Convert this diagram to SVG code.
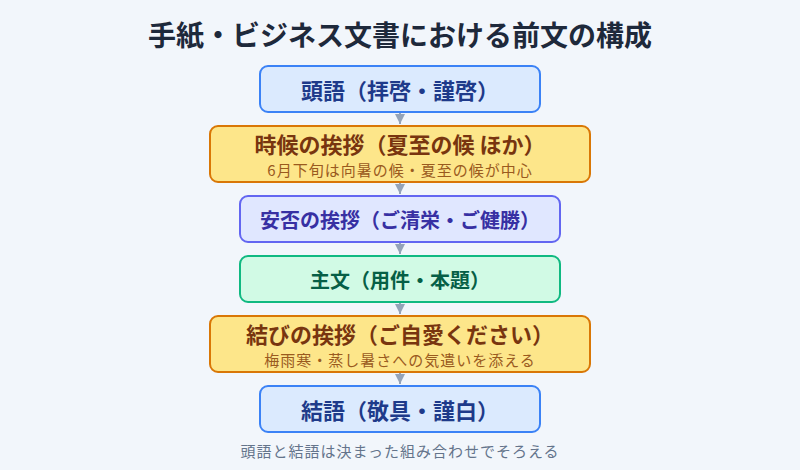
<svg xmlns="http://www.w3.org/2000/svg" width="800" height="470" viewBox="0 0 800 470">
<style>
text{font-family:"Noto Sans CJK JP","Noto Sans CJK SC",sans-serif;text-anchor:middle;dominant-baseline:central}
.t{font-size:22px;font-weight:700}
.m{font-size:20px;font-weight:700}
.s{font-size:15px;letter-spacing:1px}
.f{font-size:15px;letter-spacing:1px;fill:#64748b}
.box{stroke-width:2}
.blue rect{fill:#dbeafe;stroke:#3b82f6}
.blue text{fill:#1e3a8a}
.amber rect{fill:#fde68a;stroke:#d97706}
.amber .t{fill:#78350f}
.amber .s{fill:#9a5a1e}
.indigo rect{fill:#e0e7ff;stroke:#6366f1}
.indigo text{fill:#3730a3}
.green rect{fill:#d1fae5;stroke:#10b981}
.green text{fill:#065f46}
.conn line{stroke:#94a3b8;stroke-width:2}
</style>
<defs>
<marker id="ah" viewBox="0 0 10 10" refX="10" refY="5" markerWidth="10" markerHeight="10" markerUnits="userSpaceOnUse" orient="auto">
<path d="M0,0 L10,5 L0,10 Z" fill="#94a3b8"/>
</marker>
</defs>
<rect width="800" height="470" fill="#f2f6fb"/>
<text x="400" y="34" style="font-size:28px;font-weight:700;fill:#1e293b">手紙・ビジネス文書における前文の構成</text>
<g class="conn">
<line x1="400" y1="112" x2="400" y2="124" marker-end="url(#ah)"/>
<line x1="400" y1="182" x2="400" y2="194" marker-end="url(#ah)"/>
<line x1="400" y1="242" x2="400" y2="254" marker-end="url(#ah)"/>
<line x1="400" y1="302" x2="400" y2="314" marker-end="url(#ah)"/>
<line x1="400" y1="372" x2="400" y2="384" marker-end="url(#ah)"/>
</g>
<g id="n1" class="blue">
<rect class="box" x="260" y="66" width="280" height="46" rx="8"/>
<text class="t" x="400" y="89">頭語（拝啓・謹啓）</text>
</g>
<g id="n2" class="amber">
<rect class="box" x="210" y="126" width="380" height="56" rx="8"/>
<text class="t" x="400" y="143">時候の挨拶（夏至の候 ほか）</text>
<text class="s" x="400" y="169">6月下旬は向暑の候・夏至の候が中心</text>
</g>
<g id="n3" class="indigo">
<rect class="box" x="240" y="196" width="320" height="46" rx="8"/>
<text class="m" x="400" y="219">安否の挨拶（ご清栄・ご健勝）</text>
</g>
<g id="n4" class="green">
<rect class="box" x="240" y="256" width="320" height="46" rx="8"/>
<text class="m" x="400" y="279">主文（用件・本題）</text>
</g>
<g id="n5" class="amber">
<rect class="box" x="210" y="316" width="380" height="56" rx="8"/>
<text class="t" x="400" y="333">結びの挨拶（ご自愛ください）</text>
<text class="s" x="400" y="359">梅雨寒・蒸し暑さへの気遣いを添える</text>
</g>
<g id="n6" class="blue">
<rect class="box" x="260" y="386" width="280" height="46" rx="8"/>
<text class="t" x="400" y="409">結語（敬具・謹白）</text>
</g>
<text class="f" x="400" y="450">頭語と結語は決まった組み合わせでそろえる</text>
</svg>
